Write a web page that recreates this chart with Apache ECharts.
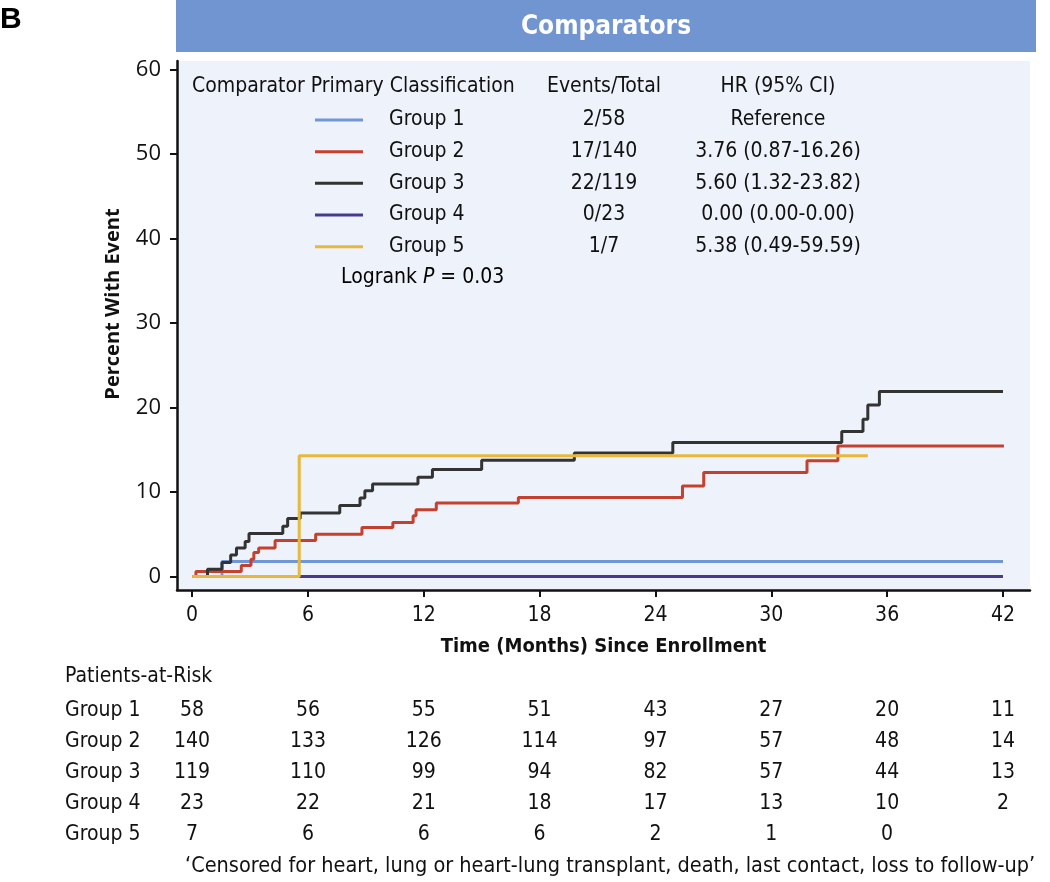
<!DOCTYPE html>
<html>
<head>
<meta charset="utf-8">
<script src="https://cdn.jsdelivr.net/npm/echarts@6/dist/echarts.min.js"></script>
<style>html,body{margin:0;padding:0;background:#fff;}#c{width:1050px;height:882px;}</style>
</head>
<body>
<div id="c"></div>
<script>
// ---------- DATA ----------
const groups = ['Group 1', 'Group 2', 'Group 3', 'Group 4', 'Group 5'];
const groupColors = ['#6f96d7', '#c4402f', '#333333', '#4a3a8f', '#e8b83c'];
const eventsTotal = ['2/58', '17/140', '22/119', '0/23', '1/7'];
const hrCI = ['Reference', '3.76 (0.87-16.26)', '5.60 (1.32-23.82)', '0.00 (0.00-0.00)', '5.38 (0.49-59.59)'];
const xTicks = [0, 6, 12, 18, 24, 30, 36, 42];
const yTicks = [0, 10, 20, 30, 40, 50, 60];

// Kaplan-Meier cumulative event (%) step curves: time (months) / percent
const g1Time = [0, 1.55, 42.0];
const g1Pct  = [0, 1.78, 1.78];
const g2Time = [0, 0.2, 2.55, 3.05, 3.2, 3.45, 4.3, 6.4, 8.8, 10.4, 11.45, 11.6, 12.65, 16.9, 25.4, 26.5, 31.85, 33.45, 42.05];
const g2Pct  = [0, 0.6, 1.3, 2.05, 2.85, 3.36, 4.25, 5.0, 5.8, 6.4, 7.2, 7.9, 8.7, 9.35, 10.7, 12.3, 13.7, 15.45, 15.45];
const g3Time = [0, 0.8, 1.55, 2.0, 2.3, 2.75, 2.95, 4.7, 4.95, 5.6, 7.65, 8.7, 8.95, 9.35, 11.7, 12.45, 15.0, 19.8, 24.9, 33.65, 34.75, 35.0, 35.6, 42.0];
const g3Pct  = [0, 0.85, 1.65, 2.55, 3.36, 4.15, 5.1, 5.95, 6.85, 7.5, 8.4, 9.3, 10.15, 10.95, 11.75, 12.65, 13.75, 14.6, 15.85, 17.15, 18.6, 20.3, 21.9, 21.9];
const g4Time = [0, 42.0];
const g4Pct  = [0, 0];
const g5Time = [0, 5.55, 35.0];
const g5Pct  = [0, 14.29, 14.29];

// Patients-at-risk at xTicks
const riskG1 = [58, 56, 55, 51, 43, 27, 20, 11];
const riskG2 = [140, 133, 126, 114, 97, 57, 48, 14];
const riskG3 = [119, 110, 99, 94, 82, 57, 44, 13];
const riskG4 = [23, 22, 21, 18, 17, 13, 10, 2];
const riskG5 = [7, 6, 6, 6, 2, 1, 0];

const panelTitle = 'Comparators';
const panelLetter = 'B';
const xTitle = 'Time (Months) Since Enrollment';
const yTitle = 'Percent With Event';
const legendHeaders = ['Comparator Primary Classification', 'Events/Total', 'HR (95% CI)'];
const logrankP = '0.03';
const riskTitle = 'Patients-at-Risk';
const footnote = '\u2018Censored for heart, lung or heart-lung transplant, death, last contact, loss to follow-up\u2019';

// ---------- CHART ----------
const FONT = '"Liberation Sans Narrow", "DejaVu Sans Condensed", "Noto Sans", sans-serif';
const TXT = '#111';
const chart = echarts.init(document.getElementById('c'), null, {renderer: 'canvas'});

const times = [g1Time, g2Time, g3Time, g4Time, g5Time];
const pcts = [g1Pct, g2Pct, g3Pct, g4Pct, g5Pct];
const risks = [riskG1, riskG2, riskG3, riskG4, riskG5];
const drawOrder = [3, 0, 1, 2, 4];

const kmSeries = drawOrder.map(i => ({
  name: groups[i], type: 'line', step: 'end', showSymbol: false, silent: true,
  xAxisIndex: 0, yAxisIndex: 0,
  lineStyle: {color: groupColors[i], width: 3},
  itemStyle: {color: groupColors[i]},
  data: times[i].map((t, k) => [t, pcts[i][k]])
}));

const riskSeries = groups.map((g, i) => ({
  type: 'scatter', xAxisIndex: 1, yAxisIndex: 1, symbolSize: 0, silent: true,
  itemStyle: {opacity: 1},
  label: {show: true, position: 'inside', formatter: p => String(p.value[2]),
          fontFamily: FONT, fontSize: 21, color: TXT, textBorderWidth: 0},
  data: risks[i].map((v, k) => [xTicks[k], g, v])
}));

const rowY = [120, 151.7, 183.3, 215, 246.7];
const LF = '21px ' + FONT;
const legendGraphics = [];
legendGraphics.push({type: 'text', x: 192, y: 87, style: {text: legendHeaders[0], font: LF, fill: TXT, textVerticalAlign: 'middle'}});
legendGraphics.push({type: 'text', x: 604, y: 87, style: {text: legendHeaders[1], font: LF, fill: TXT, textAlign: 'center', textVerticalAlign: 'middle'}});
legendGraphics.push({type: 'text', x: 778, y: 87, style: {text: legendHeaders[2], font: LF, fill: TXT, textAlign: 'center', textVerticalAlign: 'middle'}});
groups.forEach((g, i) => {
  legendGraphics.push({type: 'line', shape: {x1: 315, y1: rowY[i], x2: 363, y2: rowY[i]}, style: {stroke: groupColors[i], lineWidth: 3}});
  legendGraphics.push({type: 'text', x: 389, y: rowY[i], style: {text: g, font: LF, fill: TXT, textVerticalAlign: 'middle'}});
  legendGraphics.push({type: 'text', x: 604, y: rowY[i], style: {text: eventsTotal[i], font: LF, fill: TXT, textAlign: 'center', textVerticalAlign: 'middle'}});
  legendGraphics.push({type: 'text', x: 778, y: rowY[i], style: {text: hrCI[i], font: LF, fill: TXT, textAlign: 'center', textVerticalAlign: 'middle'}});
});
legendGraphics.push({type: 'text', x: 341, y: 278, style: {
  text: '{n|Logrank }{i|P}{n| = ' + logrankP + '}',
  textVerticalAlign: 'middle',
  rich: {n: {fontFamily: FONT, fontSize: 21, color: TXT}, i: {fontFamily: FONT, fontSize: 21, fontStyle: 'italic', color: TXT}}
}});

const option = {
  animation: false,
  backgroundColor: '#ffffff',
  grid: [
    {left: 177, right: 20, top: 61, bottom: 292, show: true, backgroundColor: '#eef2fa', borderWidth: 0},
    {left: 177, right: 20, top: 695.5, height: 155}
  ],
  xAxis: [
    {gridIndex: 0, type: 'value', min: -0.78, max: 43.4,
     axisLine: {show: true, onZero: false, lineStyle: {color: TXT, width: 2.5}},
     axisTick: {show: true, customValues: xTicks, length: 7, lineStyle: {color: TXT, width: 2}},
     axisLabel: {customValues: xTicks, fontSize: 21, color: TXT, margin: 15, fontFamily: FONT},
     splitLine: {show: false},
     name: xTitle, nameLocation: 'middle', nameGap: 47,
     nameTextStyle: {fontWeight: 'bold', fontSize: 20, color: TXT, fontFamily: FONT}},
    {gridIndex: 1, type: 'value', min: -0.78, max: 43.4, show: false}
  ],
  yAxis: [
    {gridIndex: 0, type: 'value', min: -1.6, max: 61,
     axisLine: {show: true, onZero: false, lineStyle: {color: TXT, width: 2.5}},
     axisTick: {show: true, customValues: yTicks, length: 7, lineStyle: {color: TXT, width: 2}},
     axisLabel: {customValues: yTicks, fontSize: 22, color: TXT, margin: 16, fontFamily: '"Open Sans", "Noto Sans", sans-serif'},
     splitLine: {show: false}},
    {gridIndex: 1, type: 'category', data: groups, inverse: true,
     axisLine: {show: false}, axisTick: {show: false},
     axisLabel: {align: 'left', margin: 112, fontSize: 21, color: TXT, fontFamily: FONT},
     splitLine: {show: false}}
  ],
  series: kmSeries.concat(riskSeries),
  graphic: [
    {type: 'text', x: 0, y: 20, style: {text: panelLetter, font: 'bold 30px "Liberation Sans", sans-serif', fill: '#000', textVerticalAlign: 'middle'}},
    {type: 'rect', shape: {x: 176, y: 0, width: 860, height: 52}, style: {fill: '#7195d1'}},
    {type: 'text', x: 606, y: 27, style: {text: panelTitle, font: 'bold 26px ' + FONT, fill: '#ffffff', textAlign: 'center', textVerticalAlign: 'middle'}},
    {type: 'text', x: 113, y: 304, rotation: Math.PI / 2, style: {text: yTitle, font: 'bold 20px "Open Sans", "Noto Sans", sans-serif', fill: TXT, textAlign: 'center', textVerticalAlign: 'middle'}},
    {type: 'text', x: 65, y: 677, style: {text: riskTitle, font: '21px ' + FONT, fill: TXT, textVerticalAlign: 'middle'}},
    {type: 'text', x: 185, y: 866, style: {text: footnote, font: '21.5px ' + FONT, fill: TXT, textVerticalAlign: 'middle'}}
  ].concat(legendGraphics)
};
chart.setOption(option);
</script>
</body>
</html>
